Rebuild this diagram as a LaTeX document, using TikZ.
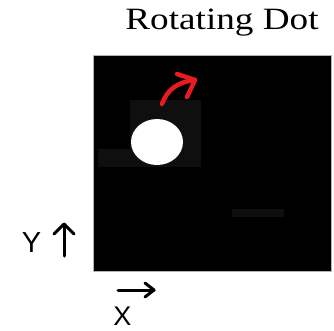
\documentclass[tikz,border=0pt]{standalone}
\usepackage{fontspec}
\setmainfont{Liberation Serif}
\newfontfamily\lsans{Liberation Sans}
\definecolor{arrowred}{RGB}{232,28,30}
\begin{document}
\begin{tikzpicture}[x=1pt,y=-1pt,
  patch/.style={fill=black!94,draw=none},
  axisarrow/.style={line width=3pt,line cap=round,line join=round},
  redarrow/.style={draw=arrowred,line width=4.5pt,line cap=round,line join=round}]
\useasboundingbox (0,0) rectangle (334,330);
% title
\node[anchor=base,inner sep=0pt,xscale=1.2,font=\fontsize{31}{32}\selectfont] (title) at (222,29) {Rotating Dot};
% black field
\fill[black] (93,55) rectangle (331,271);
\draw[gray!60,line width=0.8pt] (93,55) rectangle (331,271);
% dark patches
\fill[patch] (130,100) rectangle (201,167);
\fill[patch] (98,149) rectangle (130,167);
\fill[patch] (232,209) rectangle (284,217);
% dot
\fill[white] (157,142) ellipse [x radius=26,y radius=23];
% red curved arrow
\draw[redarrow] (162,104) .. controls (167,90) and (177,82) .. (195,80);
\draw[redarrow] (177,74) -- (195,80) -- (187,97);
% axis labels
\node[anchor=base,inner sep=0pt,font=\lsans\fontsize{29}{30}\selectfont] (ylab) at (31.5,252) {Y};
\draw[axisarrow] (64,256) -- (64,224);
\draw[axisarrow] (54,234) -- (64,224) -- (74,234);
\node[anchor=base,inner sep=0pt,font=\lsans\fontsize{27}{30}\selectfont] (xlab) at (122.5,325) {X};
\draw[axisarrow] (118,290) -- (154,290);
\draw[axisarrow] (145,283) -- (154,290) -- (145,297);
\end{tikzpicture}
\end{document}
